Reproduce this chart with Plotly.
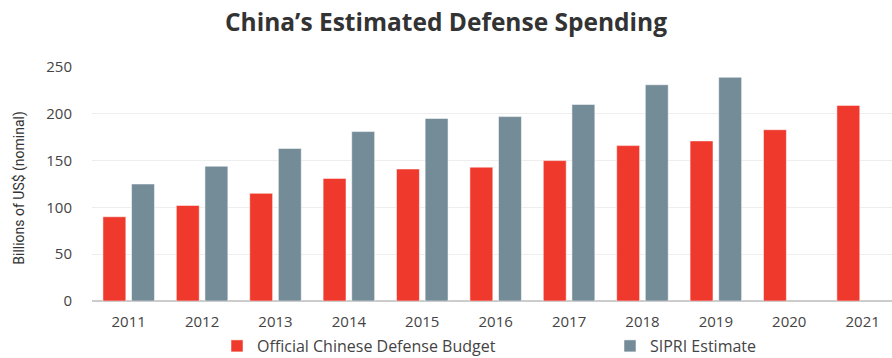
import plotly.graph_objects as go

years = ["2011", "2012", "2013", "2014", "2015", "2016", "2017", "2018", "2019", "2020", "2021"]
official = [90, 102, 115, 131, 141, 143, 150, 166, 171, 183, 209]
sipri = [125, 144, 163, 181, 195, 197, 210, 231, 239, None, None]
y_ticks = [0, 50, 100, 150, 200, 250]

RED = "#EE392C"
GREY = "#748B98"
TXT = "#444444"

fig = go.Figure()
fig.add_trace(go.Bar(x=years, y=official, name="Official Chinese Defense Budget", legend="legend",
                     marker=dict(color=RED, line=dict(color="rgba(255,255,255,0.5)", width=1))))
fig.add_trace(go.Bar(x=years, y=sipri, name="SIPRI Estimate", legend="legend2",
                     marker=dict(color=GREY, line=dict(color="rgba(255,255,255,0.5)", width=1))))

leg_common = dict(orientation="h", yref="container", y=1 - 346 / 358, yanchor="middle",
                  xref="container", xanchor="left", bgcolor="rgba(0,0,0,0)",
                  font=dict(family="Open Sans", size=16, color=TXT))

fig.update_layout(
    width=892, height=358,
    margin=dict(l=92, r=0, t=67, b=57, autoexpand=False),
    paper_bgcolor="white", plot_bgcolor="white",
    barmode="group", bargap=0.22, bargroupgap=0.2,
    font=dict(family="Open Sans", color=TXT, size=14),
    title=dict(text="<b>China’s Estimated Defense Spending</b>", x=0.5, xanchor="center",
               y=1 - 22 / 358, yanchor="middle", yref="container",
               font=dict(family="Open Sans", size=24.5, color="#333333")),
    showlegend=True,
    legend=dict(leg_common, x=217 / 892),
    legend2=dict(leg_common, x=610 / 892),
    xaxis=dict(range=[-0.5, 10.4], showgrid=False, showline=False,
               ticks="outside", ticklen=7, tickcolor="rgba(0,0,0,0)",
               tickfont=dict(family="Open Sans", size=15, color=TXT)),
    yaxis=dict(range=[0, 250], tickvals=y_ticks, showgrid=True, gridcolor="#eeeeee", gridwidth=1,
               zeroline=True, zerolinecolor="#cccccc", zerolinewidth=1.5,
               ticks="outside", ticklen=16, tickcolor="rgba(0,0,0,0)",
               tickfont=dict(family="Open Sans", size=15, color=TXT)),
    annotations=[dict(text="Billions of US$ (nominal)", textangle=-90, xref="paper", yref="paper",
                      x=(20 - 92) / 800, y=0.484, xanchor="center", yanchor="middle", showarrow=False,
                      font=dict(family="Liberation Sans Narrow, Roboto", size=14, color="#333333"))],
)

fig.write_html("out.html")
